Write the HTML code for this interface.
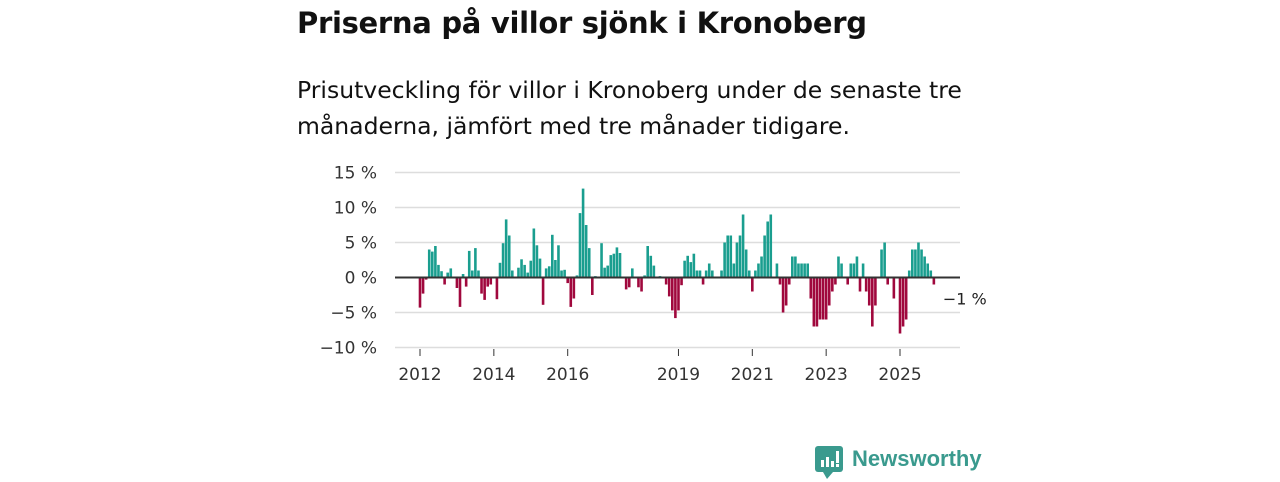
<!DOCTYPE html>
<html><head><meta charset="utf-8">
<style>
body{margin:0;width:1280px;height:480px;background:#fff;font-family:"DejaVu Sans","Liberation Sans",sans-serif;overflow:hidden;position:relative}
h1{position:absolute;left:297px;top:6px;margin:0;font-size:29px;font-weight:bold;color:#111;letter-spacing:-0.3px}
.sub{position:absolute;left:297px;top:72px;margin:0;font-size:23.5px;line-height:36px;color:#111;width:700px}
svg{position:absolute;left:0;top:0}
.logo{position:absolute;left:852px;top:446px;font-family:"Liberation Sans",sans-serif;font-size:22px;color:#3a9a8e;font-weight:bold}
</style></head><body>
<h1>Priserna på villor sjönk i Kronoberg</h1>
<p class="sub">Prisutveckling för villor i Kronoberg under de senaste tre månaderna, jämfört med tre månader tidigare.</p>
<svg id="chart" width="1280" height="480"></svg>
<svg width="30" height="36" style="left:815px;top:446px">
<rect x="0" y="0" width="28" height="26" rx="3" fill="#3a9a8e"/><polygon points="8,26 18,26 12,33" fill="#3a9a8e"/>
<rect x="6" y="14" width="3" height="7" fill="#fff"/><rect x="11" y="11" width="3" height="10" fill="#fff"/><rect x="16" y="15" width="3" height="6" fill="#fff"/><rect x="21" y="5" width="3" height="12" fill="#fff"/><rect x="21" y="18" width="3" height="3" fill="#fff"/>
</svg>
<div class="logo">Newsworthy</div>
<script>
const values=[-4.3,-2.3,-0.3,4.0,3.7,4.5,1.8,0.9,-1.0,0.7,
1.3,0,-1.5,-4.2,0.5,-1.3,3.8,1.0,4.2,1.0,
-2.3,-3.2,-1.3,-1.0,0,-3.1,2.1,4.9,8.3,6.0,
1.0,0,1.4,2.6,1.8,0.7,2.4,7.0,4.6,2.7,
-3.9,1.3,1.6,6.1,2.5,4.6,1.0,1.1,-0.8,-4.2,
-3.0,0.3,9.2,12.7,7.5,4.2,-2.5,0.2,0,4.9,1.4,
1.7,3.2,3.4,4.3,3.5,0,-1.7,-1.4,1.3,0,-1.4,-2.0,0.3,4.5,3.1,1.7,0,0.2,0,-1.0,-2.7,-4.7,-5.8,-4.7,-1.1,2.4,3.1,2.2,3.4,1.0,1.0,-1.0,1.0,2.0,1.0,
0,0,1,5,6,6,2,5,6,9,4,1,-2,1,2,3,6,8,9,
0,2,-1,-5,-4,-1,3,3,2,2,2,2,-3,-7,-7,-6,-6,-6,-4,-2,-1,3,2,0,-1,2,2,3,-2,2,-2,-4,-7,-4,0,4,5,-1,0,-3,0,-8,-7,-6,1,4,4,5,4,3,2,1,-1];
const startYear=2012;
const yTicks=[15,10,5,0,-5,-10];
const xTickYears=[2012,2014,2016,2019,2021,2023,2025];
const lastLabel="−1 %";

const NS="http://www.w3.org/2000/svg";
const svg=document.getElementById('chart');
const x=i=>420+3.077*i;
const y=v=>277.5-7*v;
function el(t,a){const e=document.createElementNS(NS,t);for(const k in a)e.setAttribute(k,a[k]);svg.appendChild(e);return e;}
yTicks.forEach(t=>{
  if(t!==0){
    const g=el('line',{x1:395,x2:960,y1:y(t),y2:y(t),stroke:'#ddd','stroke-width':1.5});
    
    
  }
  const tx=el('text',{x:377,y:y(t)+6,'text-anchor':'end','font-size':17,fill:'#333'});
  tx.textContent=(t<0?'−'+Math.abs(t):t)+' %';
  
  
});
values.forEach((v,i)=>{
  const r=el('rect',{x:x(i)-1.3,width:2.6,y:Math.min(y(v),y(0)),height:Math.abs(y(v)-y(0)),fill:v>=0?'#1a9e8f':'#a0083d'});
  
  
});
const z=el('line',{x1:395,x2:960,y1:y(0),y2:y(0),stroke:'#333','stroke-width':2});


xTickYears.forEach(yr=>{
  const xi=x((yr-startYear)*12);
  const tk=el('line',{x1:xi,x2:xi,y1:349,y2:356,stroke:'#333','stroke-width':1});
  
  
  const tx=el('text',{x:xi,y:380,'text-anchor':'middle','font-size':17,fill:'#333'});
  tx.textContent=yr;
  
  
});
const ll=el('text',{x:x(values.length-1)+9,y:y(0)+27,'font-size':16,fill:'#222'});
ll.textContent=lastLabel;


</script>
</body></html>
